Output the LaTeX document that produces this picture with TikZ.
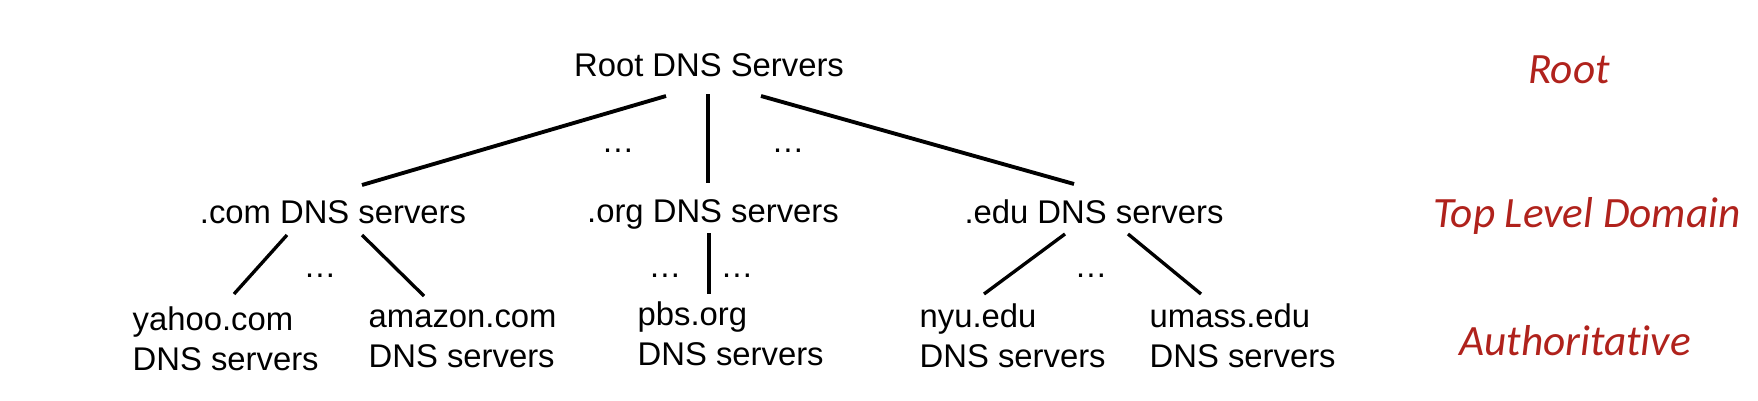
\documentclass[tikz,border=0pt]{standalone}
\usepackage{fontspec}
\setmainfont{Liberation Sans}
\newfontfamily\tierfont[Ligatures=NoCommon]{Carlito}
\usetikzlibrary{calc}
\definecolor{tierred}{RGB}{176,34,28}

\begin{document}
\begin{tikzpicture}[x=0.01cm,y=-0.01cm,
  dns/.style={font=\fontsize{9.33}{11.1}\selectfont,inner sep=0pt,align=left},
  tier/.style={font=\tierfont\itshape\fontsize{12.3}{14}\selectfont,text=tierred,inner sep=0pt,anchor=base},
  link/.style={line width=1.1pt},
  leaf/.style={line width=0.95pt}]
\useasboundingbox (0,0) rectangle (1758,400);

\node[dns,anchor=base] (root) at (709,76) {Root DNS Servers};
\node[dns,anchor=base] (com) at (333,223) {.com DNS servers};
\node[dns,anchor=base] (org) at (713,222) {.org DNS servers};
\node[dns,anchor=base] (edu) at (1094,223) {.edu DNS servers};

\node[dns,anchor=base west] (yahoo) at (132,370) {yahoo.com\\DNS servers};
\node[dns,anchor=base west] (amazon) at (368,367) {amazon.com\\DNS servers};
\node[dns,anchor=base west] (pbs) at (637,365) {pbs.org\\DNS servers};
\node[dns,anchor=base west] (nyu) at (919,367) {nyu.edu\\DNS servers};
\node[dns,anchor=base west] (umass) at (1149,367) {umass.edu\\DNS servers};

\node[dns,anchor=base] (d1) at (618,152) {…};
\node[dns,anchor=base] (d2) at (788,152) {…};
\node[dns,anchor=base] (d3) at (320,277) {…};
\node[dns,anchor=base] (d4) at (665,277) {…};
\node[dns,anchor=base] (d5) at (737,277) {…};
\node[dns,anchor=base] (d6) at (1091,277) {…};

\draw[link] ($(root.base)+(-43,20)$) -- ($(com.base)+(29,-38)$);
\draw[link] ($(root.base)+(-1,18)$) -- ($(org.base)+(-5,-39)$);
\draw[link] ($(root.base)+(52,20)$) -- ($(edu.base)+(-20,-39)$);

\draw[leaf] ($(com.base)+(-46,12)$) -- ($(yahoo.base west)+(102,-76)$);
\draw[leaf] ($(com.base)+(29,12)$) -- ($(amazon.base west)+(56,-71)$);
\draw[link] ($(org.base)+(-4,11)$) -- ($(pbs.base west)+(72,-71)$);
\draw[leaf] ($(edu.base)+(-29,11)$) -- ($(nyu.base west)+(65,-73)$);
\draw[leaf] ($(edu.base)+(34,11)$) -- ($(umass.base west)+(52,-73)$);

\node[tier] (troot) at (1569,83) {Root};
\node[tier] (ttld) at (1587,227) {Top Level Domain};
\node[tier] (tauth) at (1575,355) {Authoritative};
\end{tikzpicture}
\end{document}
